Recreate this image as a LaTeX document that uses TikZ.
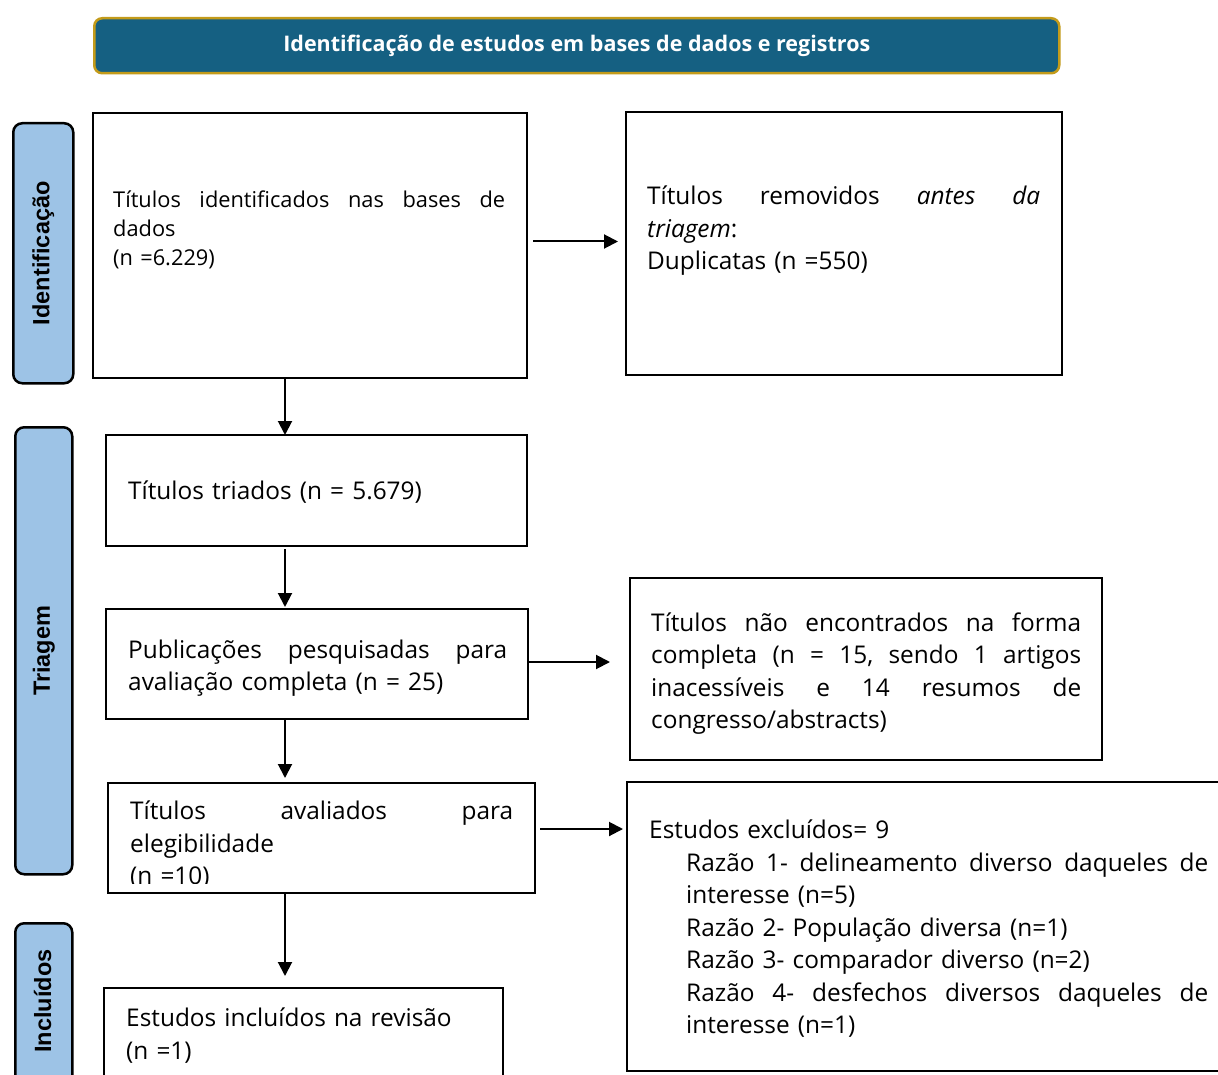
\documentclass[tikz,border=0pt]{standalone}
\usepackage{fontspec}
\setmainfont{Open Sans}
\newfontfamily\phasefont{Liberation Sans}
\usetikzlibrary{arrows.meta,calc}
\definecolor{hdrblue}{HTML}{156082}
\definecolor{hdrgold}{HTML}{C39B1A}
\definecolor{phaseblue}{HTML}{9DC3E6}
\begin{document}
\begin{tikzpicture}[x=1pt,y=-1pt,
  box/.style={draw=black, line width=2pt, fill=white, anchor=north west, inner sep=0pt, outer sep=0pt},
  phase/.style={draw=black, line width=2.5pt, fill=phaseblue, rounded corners=9pt, anchor=north west, inner sep=0pt},
  phasetext/.style={font=\phasefont\bfseries\fontsize{23.5}{23.5}\selectfont, rotate=90, inner sep=0pt},
  txt/.style={anchor=base west, inner sep=0pt, align=left, font=\fontsize{24.4}{32.5}\selectfont},
  txtsmall/.style={anchor=base west, inner sep=0pt, align=left, font=\fontsize{21.8}{29}\selectfont},
  arr/.style={line width=2pt, -{Triangle[length=14pt,width=14pt]}}]
\useasboundingbox (0,0) rectangle (1218,1075);
\clip (0,0) rectangle (1218,1075);
\fill[white] (0,0) rectangle (1218,1075);

% header
\node[draw=hdrgold, line width=2.5pt, fill=hdrblue, rounded corners=8pt, anchor=north west,
  minimum width=965pt, minimum height=55pt, inner sep=0pt, text=white,
  font=\bfseries\fontsize{21.5}{21.5}\selectfont] (hdr) at (93,17)
  {\raisebox{-1pt}{Identificação de estudos em bases de dados e registros}};

% phase labels
\node[phase, minimum width=60pt, minimum height=260pt] (p1) at (12,122) {};
\node[phasetext] (p1t) at (p1.center) {Identificação};
\node[phase, minimum width=57pt, minimum height=447pt] (p2) at (14,426) {};
\node[phasetext] (p2t) at (p2.center) {Triagem};
\node[phase, minimum width=57pt, minimum height=170pt] (p3) at (14,922) {};
\node[phasetext] (p3t) at (42.5,1001) {Incluídos};

% boxes
\node[box, minimum width=434pt, minimum height=265pt] (b1) at (93,113) {};
\node[box, minimum width=436pt, minimum height=263pt] (b2) at (626,112) {};
\node[box, minimum width=421pt, minimum height=111pt] (b3) at (106,435) {};
\node[box, minimum width=422pt, minimum height=110pt] (b4) at (106,609) {};
\node[box, minimum width=472pt, minimum height=182pt] (b5) at (630,578) {};
\node[box, minimum width=427pt, minimum height=110pt] (b6) at (108,783) {};
\node[box, minimum width=620pt, minimum height=289pt] (b7) at (627,782) {};
\node[box, minimum width=399pt, minimum height=120pt] (b8) at (104,988) {};

% texts
\node[txtsmall, text width=392pt] (t1) at (113,208)
  {\makebox[392pt][s]{Títulos\hfill identificados\hfill nas\hfill bases\hfill de}\\dados\\(n =6.229)};
\node[txt, text width=393pt] (t2) at (647,205)
  {\makebox[393pt][s]{Títulos\hfill removidos\hfill \textit{antes}\hfill \textit{da}}\\\textit{triagem}:\\Duplicatas (n =550)};
\node[txt, text width=400pt] (t3) at (128,499.5) {Títulos triados (n = 5.679)};
\node[txt, text width=379pt] (t4) at (128,658)
  {\makebox[379pt][s]{Publicações\hfill pesquisadas\hfill para}\\avaliação completa (n = 25)};
\node[txt, text width=430pt] (t5) at (651,631)
  {\makebox[430pt][s]{Títulos\hfill não\hfill encontrados\hfill na\hfill forma}\\
   \makebox[430pt][s]{completa\hfill (n\hfill =\hfill 15,\hfill sendo\hfill 1\hfill artigos}\\
   \makebox[430pt][s]{inacessíveis\hfill e\hfill 14\hfill resumos\hfill de}\\
   congresso/abstracts)};
\begin{scope}
  \clip (108,783) rectangle (535,883);
  \node[txt, text width=383pt] (t6) at (130,819.5)
    {\makebox[383pt][s]{Títulos\hfill avaliados\hfill para}\\elegibilidade\\(n =10)};
\end{scope}
\node[txt, text width=565pt] (t7) at (649,838.5)
  {Estudos excluídos= 9\\
   \hspace*{37pt}\makebox[522pt][s]{Razão\hfill 1-\hfill delineamento\hfill diverso\hfill daqueles\hfill de}\\
   \hspace*{37pt}interesse (n=5)\\
   \hspace*{37pt}Razão 2- População diversa (n=1)\\
   \hspace*{37pt}Razão 3- comparador diverso (n=2)\\
   \hspace*{37pt}\makebox[522pt][s]{Razão\hfill 4-\hfill desfechos\hfill diversos\hfill daqueles\hfill de}\\
   \hspace*{37pt}interesse (n=1)};
\node[txt, text width=370pt] (t8) at (126,1026.5) {Estudos incluídos na revisão\\(n =1)};

% connectors
\coordinate (col) at (285,0);
\draw[arr] (b1.south -| col) -- (b3.north -| col);
\draw[arr, shorten <=3pt, shorten >=2pt] (b3.south -| col) -- (b4.north -| col);
\draw[arr, shorten >=5pt] (b4.south -| col) -- (b6.north -| col);
\draw[arr, shorten >=12pt] (b6.south -| col) -- (b8.north -| col);
\draw[arr, shorten <=6pt, shorten >=8pt] ([yshift=4pt]b1.east) -- ([yshift=4pt]b1.east -| b2.west);
\draw[arr, shorten >=20pt] ([yshift=2pt]b4.east) -- ([yshift=2pt]b4.east -| b5.west);
\draw[arr, shorten <=5pt, shorten >=4pt] ([yshift=9pt]b6.east) -- ([yshift=9pt]b6.east -| b7.west);
\end{tikzpicture}
\end{document}
